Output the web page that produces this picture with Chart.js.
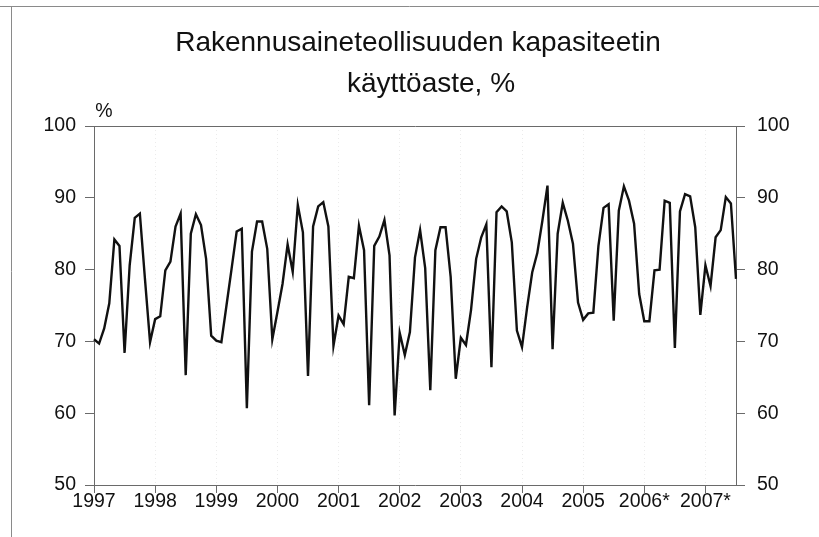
<!DOCTYPE html>
<html>
<head>
<meta charset="utf-8">
<script src="https://cdn.jsdelivr.net/npm/chart.js@4.4.1/dist/chart.umd.min.js"></script>
<style>
  body { margin: 0; background: #fff; }
  #wrap { width: 819px; height: 537px; }
</style>
</head>
<body>
<div id="wrap"><canvas id="kuva" width="819" height="537"></canvas></div>
<script>
// vuodet (x-akselin tekstit)
const vuodet = ['1997', '1998', '1999', '2000', '2001', '2002', '2003', '2004', '2005', '2006*', '2007*'];

// käyttöaste kuukausittain, luettu kuvasta
const k1997 = [70.3, 69.7, 71.8, 75.3, 84.2, 83.3, 68.4, 80.6, 87.2, 87.8, 78.7, 69.9];
const k1998 = [73.1, 73.5, 79.9, 81.1, 86.0, 87.8, 65.3, 85.0, 87.7, 86.2, 81.5, 70.8];
const k1999 = [70.1, 69.9, 75.0, 80.1, 85.3, 85.7, 60.7, 82.5, 86.7, 86.7, 82.9, 70.3];
const k2000 = [74.1, 78.0, 83.5, 79.7, 89.0, 85.2, 65.2, 86.0, 88.8, 89.4, 86.0, 69.4];
const k2001 = [73.6, 72.4, 79.0, 78.8, 86.1, 82.7, 61.1, 83.3, 84.6, 86.9, 82.0, 59.7];
const k2002 = [71.2, 68.1, 71.3, 81.7, 85.5, 80.2, 63.2, 82.7, 85.9, 85.9, 79.0, 64.8];
const k2003 = [70.5, 69.5, 74.4, 81.5, 84.5, 86.3, 66.4, 88.0, 88.8, 88.1, 83.8, 71.5];
const k2004 = [69.2, 74.7, 79.6, 82.3, 86.8, 91.7, 68.9, 85.0, 89.3, 86.8, 83.6, 75.4];
const k2005 = [73.0, 73.9, 74.0, 83.3, 88.6, 89.1, 72.9, 88.2, 91.6, 89.6, 86.4, 76.6];
const k2006 = [72.8, 72.8, 79.9, 80.0, 89.6, 89.3, 69.1, 88.1, 90.5, 90.2, 85.9, 73.7];
const k2007 = [80.6, 77.7, 84.5, 85.5, 90.1, 89.2, 78.7];

const yTikit = [50, 60, 70, 80, 90, 100];

const otsikko = ['Rakennusaineteollisuuden kapasiteetin', 'käyttöaste, %'];
const yksikko = '%';

// kootaan kuukaudet yhdeksi sarjaksi
const vuosiSarjat = [k1997, k1998, k1999, k2000, k2001, k2002, k2003, k2004, k2005, k2006, k2007];
let kuukaudet = [];
let arvot = [];
vuosiSarjat.forEach((sarja, v) => {
    sarja.forEach((a, m) => {
        kuukaudet.push(vuodet[v] + '-' + (m + 1));
        arvot.push(a);
    });
});

const fontti = "'Liberation Sans', Arial, sans-serif";
const akseliVari = '#6a6a6a';

// kehys, otsikko ja %-merkki
const koristeet = {
    id: 'koristeet',
    beforeDraw(chart) {
        const c = chart.ctx;
        c.save();
        c.strokeStyle = '#8a8a8a';
        c.lineWidth = 1;
        c.beginPath();
        c.moveTo(0, 6.5);
        c.lineTo(819, 6.5);
        c.moveTo(11.5, 6);
        c.lineTo(11.5, 537);
        c.stroke();
        c.restore();
    },
    afterDraw(chart) {
        const c = chart.ctx;
        c.save();
        c.fillStyle = '#111';
        c.textAlign = 'center';
        c.textBaseline = 'alphabetic';
        c.font = '28px ' + fontti;
        c.fillText(otsikko[0], 418, 51);
        c.fillText(otsikko[1], 431, 92);
        c.font = '19.5px ' + fontti;
        c.fillText(yksikko, 104, 117);
        c.restore();
    }
};

const ctx = document.getElementById('kuva').getContext('2d');
let chart = new Chart(ctx, {
    type: 'line',
    data: {
        labels: kuukaudet,
        datasets: [{
            data: arvot,
            borderColor: '#111',
            borderWidth: 2.4,
            pointRadius: 0,
            tension: 0,
            fill: false
        }]
    },
    options: {
        responsive: false,
        animation: false,
        layout: { padding: { top: 126, left: 0, right: 0, bottom: 0 } },
        plugins: {
            legend: { display: false },
            title: { display: false },
            tooltip: { enabled: false }
        },
        scales: {
            x: {
                type: 'category',
                offset: false,
                afterFit: (s) => { s.height = 52; },
                border: { display: true, color: akseliVari, width: 1, dash: [1, 3] },
                grid: {
                    drawOnChartArea: true,
                    color: (c) => (c.index % 12 === 0 && c.index > 0) ? 'rgba(0,0,0,0.08)' : 'transparent',
                    tickColor: (c) => c.index % 12 === 0 ? akseliVari : 'transparent',
                    tickLength: 8
                },
                ticks: {
                    autoSkip: false,
                    maxRotation: 0,
                    padding: -3,
                    color: '#111',
                    font: { family: fontti, size: 19.5 },
                    callback: (val, i) => i % 12 === 0 ? vuodet[i / 12] : ''
                }
            },
            y: {
                position: 'left',
                min: 50,
                max: 100,
                afterFit: (s) => { s.width = 94; },
                afterBuildTicks: (s) => { s.ticks = yTikit.map(v => ({ value: v })); },
                border: { display: true, color: akseliVari, width: 1 },
                grid: {
                    drawOnChartArea: true,
                    color: (c) => c.tick && c.tick.value === 100 ? akseliVari : 'transparent',
                    tickColor: akseliVari,
                    tickLength: 9
                },
                ticks: {
                    padding: 9,
                    color: '#111',
                    font: { family: fontti, size: 19.5 }
                }
            },
            y2: {
                position: 'right',
                min: 50,
                max: 100,
                afterFit: (s) => { s.width = 83; },
                afterBuildTicks: (s) => { s.ticks = yTikit.map(v => ({ value: v })); },
                border: { display: true, color: akseliVari, width: 1 },
                grid: {
                    drawOnChartArea: false,
                    tickColor: akseliVari,
                    tickLength: 9
                },
                ticks: {
                    padding: 12,
                    color: '#111',
                    font: { family: fontti, size: 19.5 }
                }
            }
        }
    },
    plugins: [koristeet]
});
</script>
</body>
</html>
